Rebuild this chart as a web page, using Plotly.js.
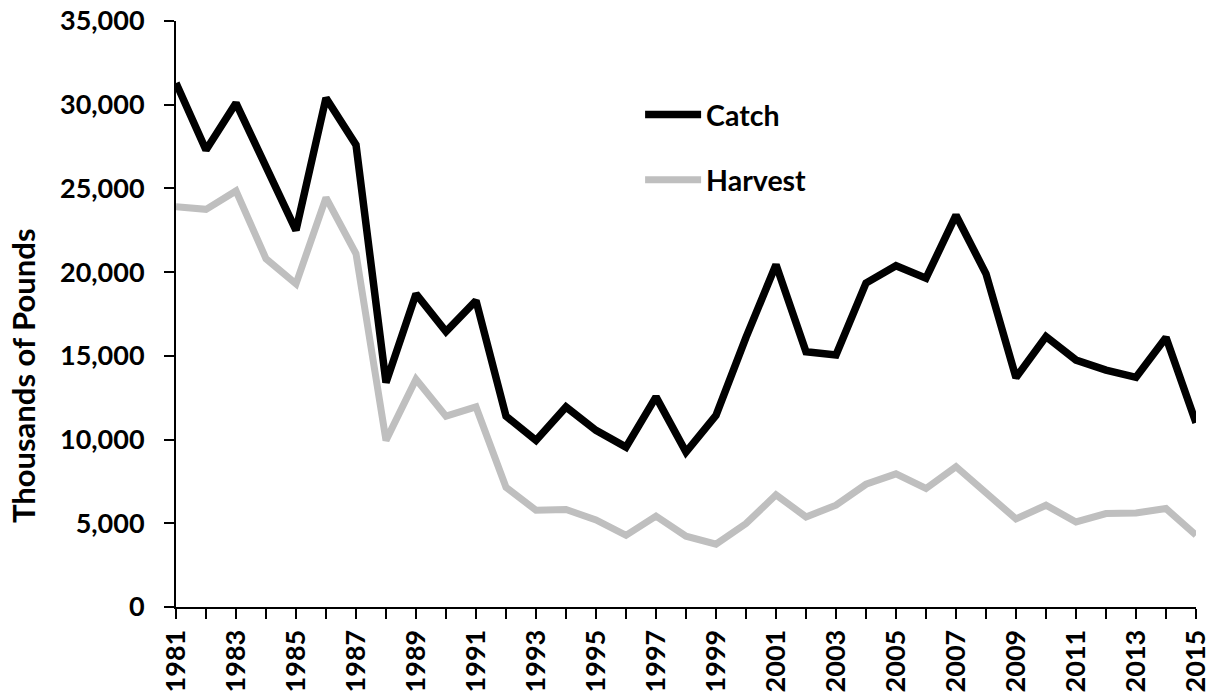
<!DOCTYPE html>
<html>
<head>
<meta charset="utf-8">
<script src="https://cdn.plot.ly/plotly-3.0.1.min.js"></script>
<style>html,body{margin:0;padding:0;background:#fff;}#chart{width:1218px;height:696px;}</style>
</head>
<body>
<div id="chart"></div>
<script>
const years = [1981,1982,1983,1984,1985,1986,1987,1988,1989,1990,1991,1992,1993,1994,1995,1996,1997,1998,1999,2000,2001,2002,2003,2004,2005,2006,2007,2008,2009,2010,2011,2012,2013,2014,2015];
const catchVals = [31300,27300,30100,26400,22500,30400,27600,13400,18700,16450,18300,11400,9950,11950,10550,9550,12550,9250,11450,16100,20450,15250,15050,19350,20380,19640,23400,19900,13700,16150,14750,14150,13720,16100,11000];
const harvestVals = [23900,23750,24850,20800,19300,24450,21100,9950,13600,11400,11950,7150,5780,5820,5200,4280,5430,4230,3750,4980,6700,5380,6080,7330,7950,7080,8380,6780,5260,6080,5080,5580,5620,5880,4290];
const seriesNames = ['Catch','Harvest'];
const yTitle = 'Thousands of Pounds';

const FONT = 'Lato, "DejaVu Sans", sans-serif';
const traces = [
  {x: years, y: catchVals, name: seriesNames[0], type: 'scatter', mode: 'lines',
   line: {color: '#000000', width: 7.5}, legendgroup: 'a', hoverinfo: 'x+y'},
  {x: years, y: harvestVals, name: seriesNames[1], type: 'scatter', mode: 'lines',
   line: {color: '#bfbfbf', width: 7}, legendgroup: 'b', hoverinfo: 'x+y'}
];
const layout = {
  width: 1218, height: 696,
  margin: {l: 176, r: 22, t: 21, b: 89},
  paper_bgcolor: '#ffffff', plot_bgcolor: '#ffffff',
  font: {family: FONT, size: 27, color: '#000000', weight: 'bold'},
  showlegend: true,
  legend: {x: 0.455, y: 0.883, xanchor: 'left', yanchor: 'top', bgcolor: 'rgba(0,0,0,0)',
           font: {family: FONT, size: 28.5, color: '#000', weight: 'bold'},
           itemwidth: 56, tracegroupgap: 25},
  xaxis: {
    range: [1981, 2015], tickmode: 'linear', tick0: 1981, dtick: 2,
    tickangle: -90, ticks: 'outside', ticklen: 10, tickwidth: 2, tickcolor: '#000',
    showline: true, linecolor: '#000', linewidth: 2, showgrid: false, zeroline: false,
    tickfont: {family: FONT, size: 27, color: '#000', weight: 'bold'},
    minor: {dtick: 1, tick0: 1981, ticks: 'outside', ticklen: 10, tickwidth: 2, tickcolor: '#000', showgrid: false},
    fixedrange: true
  },
  yaxis: {
    range: [0, 35000], tickmode: 'linear', tick0: 0, dtick: 5000, tickformat: ',d',
    ticks: 'outside', ticklen: 10, tickwidth: 2, tickcolor: '#000',
    ticklabelstandoff: 14,
    showline: true, linecolor: '#000', linewidth: 2, showgrid: false, zeroline: false,
    tickfont: {family: FONT, size: 27, color: '#000', weight: 'bold'},
    fixedrange: true
  },
  annotations: [{
    text: yTitle, textangle: -90, xref: 'paper', yref: 'paper',
    x: 0, xshift: -153, y: 0.394, xanchor: 'center', yanchor: 'middle', showarrow: false,
    font: {family: FONT, size: 31, color: '#000', weight: 'bold'}
  }]
};
Plotly.newPlot('chart', traces, layout, {displayModeBar: false, staticPlot: true});
</script>
</body>
</html>
